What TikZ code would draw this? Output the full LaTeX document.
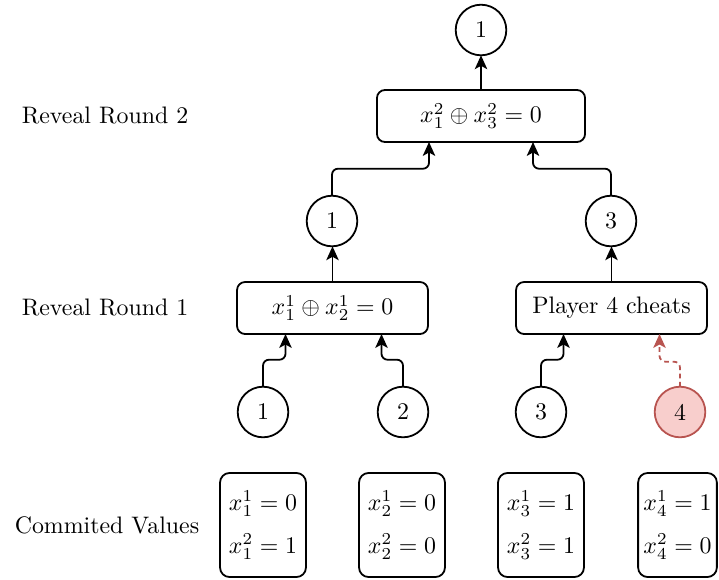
\documentclass[tikz,border=0pt]{standalone}
\usetikzlibrary{arrows.meta,calc}
\definecolor{redfill}{HTML}{F8CECC}
\definecolor{redline}{HTML}{B85450}
\begin{document}
\begin{tikzpicture}[x=0.419pt,y=-0.419pt,
  every node/.style={inner sep=0pt, outer sep=0pt},
  player/.style={circle,draw,line width=0.75pt,minimum size=21.2pt},
  cheater/.style={player,draw=redline,fill=redfill},
  revealbox/.style={draw,rounded corners=3.4pt,line width=0.75pt,minimum height=21.8pt},
  commitbox/.style={draw,rounded corners=4pt,line width=0.75pt,minimum width=36pt,minimum height=43.6pt,align=center},
  rowlabel/.style={anchor=center},
  conn/.style={line width=0.75pt,-{Stealth[length=5.8pt,width=5.2pt,inset=1.4pt]},rounded corners=2.5pt},
  cheatconn/.style={conn,draw=redline,dash pattern=on 2pt off 1.5pt}]
\useasboundingbox (0,0) rectangle (719,579);

\node[player] (top) at (481,30) {1};
\node[revealbox,minimum width=87.2pt] (r2) at (481,116) {$x_1^2\oplus x_3^2=0$};
\node[player] (m1) at (332,221) {1};
\node[player] (m3) at (611,221) {3};
\node[revealbox,minimum width=80pt] (r1a) at (332.5,308) {$x_1^1\oplus x_2^1=0$};
\node[revealbox,minimum width=80pt] (r1b) at (611.5,308) {Player 4 cheats};
\node[player] (b1) at (263,412) {1};
\node[player] (b2) at (403,412) {2};
\node[player] (b3) at (541,412) {3};
\node[cheater] (b4) at (680,412) {4};

\node[commitbox] (c1) at (263,525) {$x_1^1=0$\\[6pt]$x_1^2=1$};
\node[commitbox] (c2) at (402,525) {$x_2^1=0$\\[6pt]$x_2^2=0$};
\node[commitbox] (c3) at (541,525) {$x_3^1=1$\\[6pt]$x_3^2=1$};
\node[commitbox,minimum width=33pt] (c4) at (677.5,525) {$x_4^1=1$\\[6pt]$x_4^2=0$};

\node[rowlabel] (l2) at (105,115) {Reveal Round 2};
\node[rowlabel] (l1) at (105,307) {Reveal Round 1};
\node[rowlabel] (l0) at (107,525) {Commited Values};

\draw[conn] (r2.north) -- (top.south);
\draw[conn] (r1a.north) -- (r1a.north |- m1.south);
\draw[conn] (r1b.north) -- (r1b.north |- m3.south);
\draw[conn] (m1.north) -- ++(0,-27) -| ($(r2.south)+(-52,0)$);
\draw[conn] (m3.north) -- ++(0,-27) -| ($(r2.south)+(52,0)$);
\draw[conn] (b1.north) -- ++(0,-27) -| ($(r1a.south)+(-47,0)$);
\draw[conn] (b2.north) -- ++(0,-27) -| ($(r1a.south)+(49,0)$);
\draw[conn] (b3.north) -- ++(0,-27) -| ($(r1b.south)+(-48,0)$);
\draw[cheatconn] (b4.north) -- ++(0,-25) -| ($(r1b.south)+(48,0)$);
\end{tikzpicture}
\end{document}
